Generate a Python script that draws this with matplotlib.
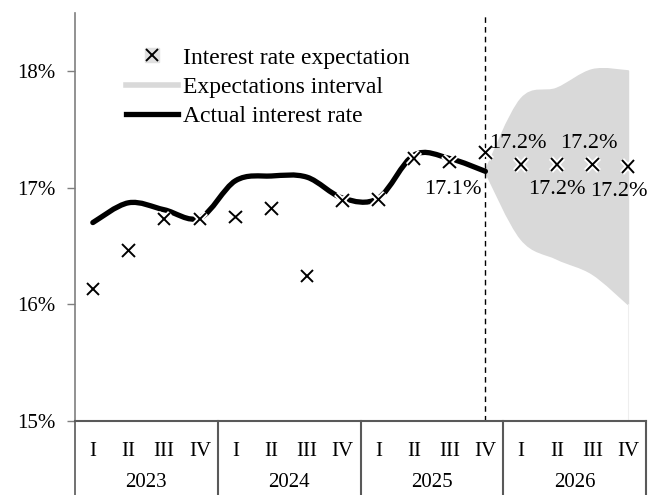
import matplotlib
matplotlib.use('Agg')
import matplotlib.pyplot as plt
import numpy as np
from matplotlib.path import Path
from matplotlib.patches import PathPatch
from matplotlib.lines import Line2D
from matplotlib.legend_handler import HandlerTuple
import matplotlib.patheffects as pe

plt.rcParams['font.family'] = ['Liberation Serif', 'DejaVu Serif']

years = ['2023', '2024', '2025', '2026']
quarters = ['I', 'II', 'III', 'IV']

# interest rate expectations, % (one per quarter, 2023 I .. 2026 IV)
expectation = [16.13, 16.46, 16.73, 16.73,
               16.75, 16.82, 16.24, 16.89,
               16.90, 17.25, 17.22, 17.30,
               17.20, 17.20, 17.20, 17.18]
exp_labels = ['17.2%', '17.2%', '17.2%', '17.2%']   # 2026 I..IV

# actual interest rate, % (2023 I .. 2025 IV)
actual = [16.70, 16.87, 16.81, 16.74,
          17.06, 17.10, 17.09, 16.91,
          16.91, 17.28, 17.25, 17.14]
actual_label = '17.1%'

# expectations interval, 2025 IV .. 2026 IV
interval_upper = [17.14, 17.76, 17.85, 18.01, 18.00]
interval_lower = [17.14, 16.56, 16.39, 16.26, 16.00]


def smooth_path(xs, ys):
    # Excel-like smoothed line as cubic bezier segments
    pts = np.column_stack([xs, ys]).astype(float)
    n = len(pts)
    verts = [pts[0]]
    codes = [Path.MOVETO]
    for i in range(n - 1):
        p0 = pts[max(i - 1, 0)]
        p1 = pts[i]
        p2 = pts[i + 1]
        p3 = pts[min(i + 2, n - 1)]
        verts += [p1 + (p2 - p0) / 6, p2 - (p3 - p1) / 6, p2]
        codes += [Path.CURVE4] * 3
    return verts, codes


n_cat = len(years) * len(quarters)
x = np.arange(n_cat)
FS = 15

fig = plt.figure(figsize=(6.63, 4.95), dpi=100)
ax = fig.add_axes([75 / 663, 74.5 / 495, 571 / 663, 407.5 / 495])

# interval area
xi = x[11:]
uv, uc = smooth_path(xi, interval_upper)
lv, lc = smooth_path(xi[::-1], interval_lower[::-1])
verts = uv + lv + [uv[0]]
codes = uc + [Path.LINETO] + lc[1:] + [Path.CLOSEPOLY]
ax.add_patch(PathPatch(Path(verts, codes), facecolor='#d9d9d9', edgecolor='#d9d9d9',
                       lw=1.5, joinstyle='round', zorder=1))
ax.plot([15, 15], [15, interval_lower[-1]], color='#eeeeee', lw=0.8, zorder=1)

# actual line
av, ac = smooth_path(x[:len(actual)], actual)
ax.add_patch(PathPatch(Path(av, ac), facecolor='none', edgecolor='black', lw=3.8,
                       capstyle='round', zorder=2))

# forecast boundary
ax.axvline(11, color='black', lw=1, ls=(0, (4, 3)), zorder=2)

# expectation markers (white halo cuts the line like the original)
ax.plot(x, expectation, ls='none', marker='x', ms=9, mew=1.4, color='black', zorder=3,
        path_effects=[pe.Stroke(linewidth=4, foreground='white'), pe.Normal()])

# data labels: above / below alternately
label_dx = [-0.1, 0.0, -0.1, -0.25]
label_dy = [0.18, -0.22, 0.18, -0.21]
for i, lab in enumerate(exp_labels):
    k = 12 + i
    ax.text(k + label_dx[i], expectation[k] + label_dy[i], lab,
            ha='center', va='center', fontsize=16)
ax.text(10.9, 16.98, actual_label, ha='right', va='center', fontsize=16)

ax.set_xlim(-0.5, n_cat - 0.5)
ax.set_ylim(15, 18.5)
ax.set_yticks([15, 16, 17, 18])
ax.set_yticklabels(['15%', '16%', '17%', '18%'], fontsize=FS)
ax.tick_params(axis='y', length=6, width=1, color='#7f7f7f', pad=8)
ax.set_xticks([])
for s in ['top', 'right']:
    ax.spines[s].set_visible(False)
ax.spines['left'].set_color('#7f7f7f')
ax.spines['bottom'].set_color('#595959')
ax.spines['left'].set_linewidth(1.2)
ax.spines['bottom'].set_linewidth(1.5)

# two-level category axis
trans = ax.get_xaxis_transform()
for k in range(n_cat):
    ax.text(k, -0.075, quarters[k % 4], transform=trans, ha='center', va='center',
            fontsize=FS)
for j, yr in enumerate(years):
    ax.text(j * 4 + 1.5, -0.152, yr, transform=trans, ha='center', va='center',
            fontsize=FS)
for j in range(len(years) + 1):
    ax.plot([j * 4 - 0.5] * 2, [0, -0.19], transform=trans, color='#595959',
            lw=1.5 if j > 0 else 1.2, clip_on=False)

# legend
h_exp = (Line2D([], [], ls='none', marker='s', ms=10, color='#e0e0e0'),
         Line2D([], [], ls='none', marker='x', ms=9, mew=1.4, color='black'))
h_int = Line2D([], [], color='#d9d9d9', lw=4)
h_act = Line2D([], [], color='black', lw=3.8)
ax.legend([h_exp, h_int, h_act],
          ['Interest rate expectation', 'Expectations interval', 'Actual interest rate'],
          handler_map={tuple: HandlerTuple(ndivide=1)},
          loc='upper left', bbox_to_anchor=(51 / 571, 1 - 34 / 407.5), frameon=False,
          fontsize=17, handlelength=2.2, handletextpad=0.2, labelspacing=0.33,
          borderaxespad=0, borderpad=0)

fig.savefig('out.png', dpi=100)
